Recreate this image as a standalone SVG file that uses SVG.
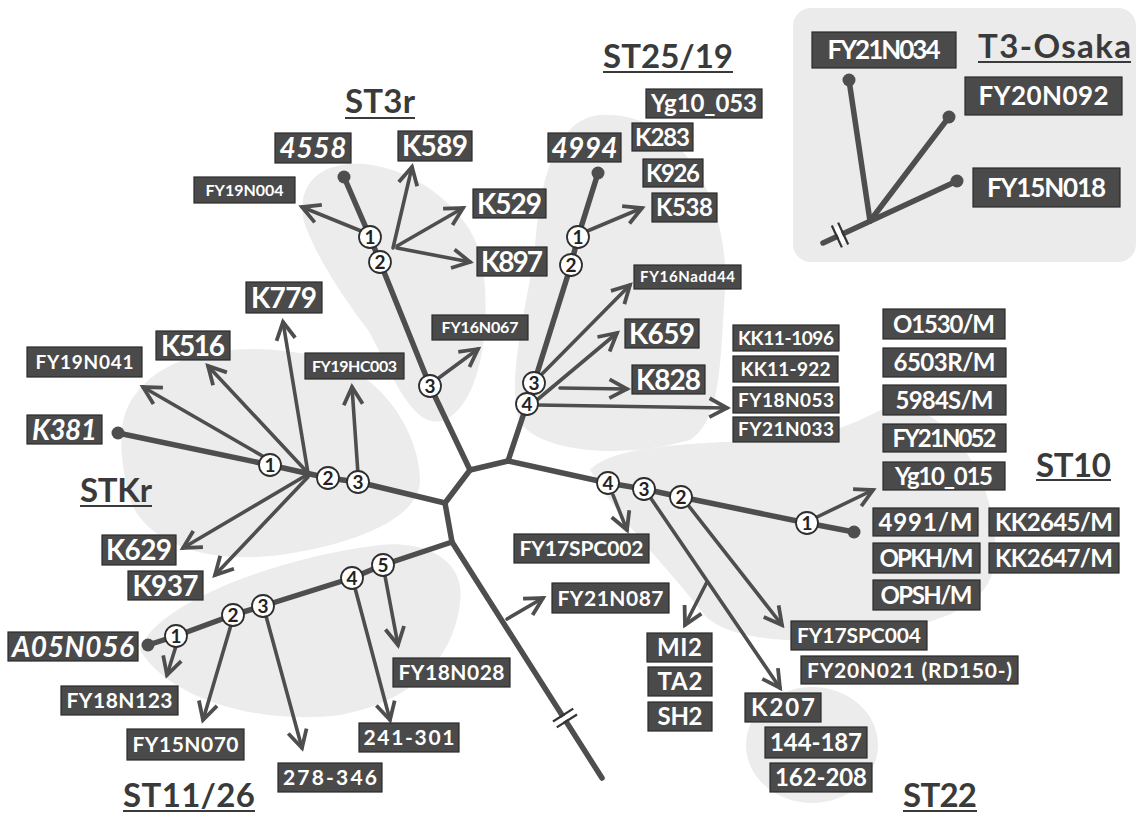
<svg xmlns="http://www.w3.org/2000/svg" width="1138" height="813" viewBox="0 0 1138 813">
<style>
.ln{stroke:#4e4e4e;stroke-width:5.5;fill:none;stroke-linecap:round;stroke-linejoin:round}
.ar{stroke:#4e4e4e;stroke-width:3.6;fill:none;stroke-linecap:round;marker-end:url(#ah)}
.bx{fill:#4a4a4a;stroke:#2a2a2a;stroke-width:1.2}
.lb{fill:#fff;font-family:Lato,"Liberation Sans",sans-serif;font-weight:bold;text-anchor:middle}
.it{font-style:italic}
.cn circle{fill:#fff;stroke:#2e2e2e;stroke-width:1.8}
.cn text{font-family:Lato,"Liberation Sans",sans-serif;font-size:19px;font-weight:bold;text-anchor:middle;fill:#222}
.ttl{font-family:Lato,"Liberation Sans",sans-serif;fill:#3a3a3a;font-size:33px;font-weight:bold}
.ul{stroke:#3a3a3a;stroke-width:2.2}
.blob{fill:#ececec}
.dot{fill:#4e4e4e}
</style>
<defs>
<marker id="ah" viewBox="0 0 20 20" refX="17" refY="10" markerWidth="27" markerHeight="27" markerUnits="userSpaceOnUse" orient="auto"><path d="M4,3 L17,10 L4,17" fill="none" stroke="#4e4e4e" stroke-width="2.8" stroke-linejoin="miter"/></marker>
</defs>
<rect width="1138" height="813" fill="#fff"/>
<g id="backgrounds">
<rect x="793" y="8" width="343" height="254" rx="18" fill="#ebebeb"/>
<path class="blob" d="M330,168 C385,148 472,200 482,262 C492,322 482,402 445,420 C412,432 392,372 368,330 C345,300 318,260 305,225 C298,200 305,178 330,168 Z"/>
<path class="blob" d="M600,115 C680,110 730,200 725,290 C720,360 722,420 690,440 C620,460 540,452 520,422 C505,382 528,300 535,250 C540,170 560,118 600,115 Z"/>
<path class="blob" d="M590,470 C620,440 720,445 800,437 C860,430 880,402 905,406 C965,420 1000,500 995,560 C990,612 930,625 860,636 C800,646 722,640 702,612 C672,572 620,522 590,470 Z"/>
<ellipse class="blob" cx="812" cy="745" rx="66" ry="58"/>
<path class="blob" d="M135,395 C170,345 260,340 330,360 C390,380 420,440 420,480 C420,520 350,545 280,555 C200,565 145,540 130,500 C120,460 115,420 135,395 Z"/>
<path class="blob" d="M140,650 C150,610 260,560 380,545 C432,540 466,565 460,602 C455,652 420,700 340,715 C260,725 170,700 140,650 Z"/>
</g>
<g id="connectors">
<polyline class="ln" points="344,177 370,237 380,262 430,386 470,470"/>
<polyline class="ln" points="470,470 508,461"/>
<polyline class="ln" points="470,470 445,503 452,542"/>
<polyline class="ln" points="508,461 527,404 534,383 571,265 578,237 598,173"/>
<polyline class="ln" points="508,461 608,483 644,489 681,497 807,523 854,532"/>
<polyline class="ln" points="445,503 358,482 328,478 270,465 118,433"/>
<polyline class="ln" points="452,542 383,565 352,578 263,606 233,615 176,636 148,645"/>
<polyline class="ln" points="452,542 602,778"/>
<polyline class="ln" points="849,80 870,221"/>
<polyline class="ln" points="949,117 870,221"/>
<polyline class="ln" points="957,181 823,243"/>
<g transform="translate(565,718) rotate(57.6)"><rect x="-2.2" y="-9" width="4.4" height="18" fill="#fff"/><line x1="-3.5" y1="-12" x2="-3.5" y2="12" stroke="#333" stroke-width="2.2"/><line x1="3.5" y1="-12" x2="3.5" y2="12" stroke="#333" stroke-width="2.2"/></g>
<g transform="translate(840,235) rotate(155.2)"><rect x="-2.2" y="-9" width="4.4" height="18" fill="#fff"/><line x1="-3.5" y1="-12" x2="-3.5" y2="12" stroke="#333" stroke-width="2.2"/><line x1="3.5" y1="-12" x2="3.5" y2="12" stroke="#333" stroke-width="2.2"/></g>
<line class="ar" x1="366" y1="233" x2="302" y2="207"/>
<line class="ar" x1="393" y1="248" x2="412" y2="167"/>
<line class="ar" x1="397" y1="246" x2="463" y2="208"/>
<line class="ar" x1="397" y1="248" x2="470" y2="262"/>
<line class="ar" x1="436" y1="380" x2="478" y2="349"/>
<line class="ar" x1="585" y1="232" x2="642" y2="208"/>
<line class="ar" x1="540" y1="376" x2="630" y2="285"/>
<line class="ar" x1="537" y1="400" x2="617" y2="333"/>
<line class="ar" x1="560" y1="388" x2="627" y2="389"/>
<line class="ar" x1="537" y1="405" x2="727" y2="408"/>
<line class="ar" x1="815" y1="518" x2="873" y2="490"/>
<line class="ar" x1="613" y1="495" x2="627" y2="530"/>
<line class="ar" x1="650" y1="497" x2="780" y2="688"/>
<line class="ar" x1="688" y1="505" x2="782" y2="625"/>
<line class="ar" x1="707" y1="582" x2="685" y2="625"/>
<line class="ar" x1="266" y1="458" x2="143" y2="387"/>
<line class="ar" x1="308" y1="473" x2="208" y2="366"/>
<line class="ar" x1="308" y1="473" x2="283" y2="322"/>
<line class="ar" x1="358" y1="474" x2="352" y2="387"/>
<line class="ar" x1="305" y1="476" x2="183" y2="548"/>
<line class="ar" x1="308" y1="477" x2="215" y2="575"/>
<line class="ar" x1="176" y1="646" x2="167" y2="675"/>
<line class="ar" x1="231" y1="625" x2="203" y2="720"/>
<line class="ar" x1="266" y1="616" x2="302" y2="748"/>
<line class="ar" x1="355" y1="588" x2="390" y2="720"/>
<line class="ar" x1="385" y1="576" x2="398" y2="645"/>
<line class="ar" x1="507" y1="619" x2="543" y2="598"/>
<circle class="dot" cx="344" cy="177" r="6.5"/>
<circle class="dot" cx="598" cy="173" r="6.5"/>
<circle class="dot" cx="854" cy="532" r="6.5"/>
<circle class="dot" cx="118" cy="433" r="6.5"/>
<circle class="dot" cx="148" cy="645" r="6.5"/>
<circle class="dot" cx="849" cy="80" r="6.5"/>
<circle class="dot" cx="949" cy="117" r="6.5"/>
<circle class="dot" cx="957" cy="181" r="6.5"/>
</g>
<g id="mutations" class="cn">
<circle cx="370" cy="237" r="11"/><text x="370" y="244">1</text>
<circle cx="380" cy="262" r="11"/><text x="380" y="269">2</text>
<circle cx="430" cy="386" r="11"/><text x="430" y="393">3</text>
<circle cx="578" cy="237" r="11"/><text x="578" y="244">1</text>
<circle cx="571" cy="265" r="11"/><text x="571" y="272">2</text>
<circle cx="534" cy="383" r="11"/><text x="534" y="390">3</text>
<circle cx="527" cy="404" r="11"/><text x="527" y="411">4</text>
<circle cx="608" cy="483" r="11"/><text x="608" y="490">4</text>
<circle cx="644" cy="489" r="11"/><text x="644" y="496">3</text>
<circle cx="681" cy="497" r="11"/><text x="681" y="504">2</text>
<circle cx="807" cy="523" r="11"/><text x="807" y="530">1</text>
<circle cx="270" cy="465" r="11"/><text x="270" y="472">1</text>
<circle cx="328" cy="478" r="11"/><text x="328" y="485">2</text>
<circle cx="358" cy="482" r="11"/><text x="358" y="489">3</text>
<circle cx="176" cy="636" r="11"/><text x="176" y="643">1</text>
<circle cx="233" cy="615" r="11"/><text x="233" y="622">2</text>
<circle cx="263" cy="606" r="11"/><text x="263" y="613">3</text>
<circle cx="352" cy="578" r="11"/><text x="352" y="585">4</text>
<circle cx="383" cy="565" r="11"/><text x="383" y="572">5</text>
</g>
<g id="titles">
<text class="ttl" x="345" y="113" textLength="70">ST3r</text><line class="ul" x1="345" y1="118" x2="415" y2="118"/>
<text class="ttl" x="603" y="68" textLength="130">ST25/19</text><line class="ul" x1="603" y1="72" x2="733" y2="72"/>
<text class="ttl" x="978" y="58" textLength="153">T3-Osaka</text><line class="ul" x1="978" y1="62" x2="1131" y2="62"/>
<text class="ttl" x="1036" y="477" textLength="75">ST10</text><line class="ul" x1="1036" y1="480" x2="1111" y2="480"/>
<text class="ttl" x="80" y="502" textLength="72">STKr</text><line class="ul" x1="80" y1="506" x2="152" y2="506"/>
<text class="ttl" x="123" y="807" textLength="132">ST11/26</text><line class="ul" x1="123" y1="811" x2="255" y2="811"/>
<text class="ttl" x="903" y="807" textLength="74">ST22</text><line class="ul" x1="903" y1="811" x2="977" y2="811"/>
</g>
<g id="n4558"><rect class="bx" x="275" y="133" width="76" height="30"/><text class="lb it" x="313" y="158" font-size="28" textLength="67">4558</text></g>
<g id="nK589"><rect class="bx" x="398" y="131" width="74" height="30"/><text class="lb" x="435" y="156" font-size="28" textLength="66">K589</text></g>
<g id="nFY19N004"><rect class="bx" x="194" y="177" width="101" height="26"/><text class="lb" x="244.5" y="196" font-size="16" textLength="78">FY19N004</text></g>
<g id="nK529"><rect class="bx" x="473" y="189" width="73" height="29"/><text class="lb" x="509.5" y="213.5" font-size="28" textLength="65">K529</text></g>
<g id="nK897"><rect class="bx" x="477" y="247" width="70" height="29"/><text class="lb" x="512" y="271.5" font-size="28" textLength="62">K897</text></g>
<g id="nFY16N067"><rect class="bx" x="432" y="315" width="96" height="25"/><text class="lb" x="480" y="333" font-size="16" textLength="77">FY16N067</text></g>
<g id="nYg10_053"><rect class="bx" x="646" y="89" width="116" height="29"/><text class="lb" x="704" y="112" font-size="24" textLength="106">Yg10_053</text></g>
<g id="nK283"><rect class="bx" x="632" y="123" width="61" height="28"/><text class="lb" x="662.5" y="145.6" font-size="24" textLength="55">K283</text></g>
<g id="nK926"><rect class="bx" x="643" y="159" width="60" height="28"/><text class="lb" x="673" y="181.6" font-size="24" textLength="54">K926</text></g>
<g id="nK538"><rect class="bx" x="652" y="193" width="65" height="29"/><text class="lb" x="684.5" y="216" font-size="24" textLength="57">K538</text></g>
<g id="n4994"><rect class="bx" x="548" y="133" width="73" height="29"/><text class="lb it" x="584.5" y="157.5" font-size="28" textLength="66">4994</text></g>
<g id="nFY16Nadd44"><rect class="bx" x="634" y="265" width="107" height="24"/><text class="lb" x="687.5" y="282.4" font-size="15" textLength="95">FY16Nadd44</text></g>
<g id="nK659"><rect class="bx" x="625" y="319" width="74" height="29"/><text class="lb" x="662" y="343.5" font-size="28" textLength="66">K659</text></g>
<g id="nK828"><rect class="bx" x="632" y="365" width="73" height="29"/><text class="lb" x="668.5" y="389.5" font-size="28" textLength="65">K828</text></g>
<g id="nKK11-1096"><rect class="bx" x="733" y="325" width="106" height="26"/><text class="lb" x="786" y="344.8" font-size="19" textLength="96">KK11-1096</text></g>
<g id="nKK11-922"><rect class="bx" x="733" y="356" width="105" height="26"/><text class="lb" x="785.5" y="375.8" font-size="19" textLength="90">KK11-922</text></g>
<g id="nFY18N053"><rect class="bx" x="733" y="387" width="106" height="26"/><text class="lb" x="786" y="406.8" font-size="19" textLength="96">FY18N053</text></g>
<g id="nFY21N033"><rect class="bx" x="733" y="417" width="106" height="25"/><text class="lb" x="786" y="436.3" font-size="19" textLength="96">FY21N033</text></g>
<g id="nFY19N041"><rect class="bx" x="27" y="347" width="115" height="30"/><text class="lb" x="84.5" y="368.8" font-size="19" textLength="98">FY19N041</text></g>
<g id="nK516"><rect class="bx" x="156" y="331" width="74" height="29"/><text class="lb" x="193" y="355.5" font-size="28" textLength="64">K516</text></g>
<g id="nK779"><rect class="bx" x="246" y="282" width="76" height="31"/><text class="lb" x="284" y="307.5" font-size="28" textLength="66">K779</text></g>
<g id="nFY19HC003"><rect class="bx" x="305" y="353" width="99" height="26"/><text class="lb" x="354.5" y="371.8" font-size="16" textLength="85">FY19HC003</text></g>
<g id="nK381"><rect class="bx" x="27" y="415" width="75" height="29"/><text class="lb it" x="64.5" y="439.5" font-size="28" textLength="65">K381</text></g>
<g id="nK629"><rect class="bx" x="102" y="535" width="74" height="30"/><text class="lb" x="139" y="560" font-size="28" textLength="66">K629</text></g>
<g id="nK937"><rect class="bx" x="128" y="571" width="75" height="29"/><text class="lb" x="165.5" y="595.5" font-size="28" textLength="66">K937</text></g>
<g id="nA05N056"><rect class="bx" x="8" y="632" width="130" height="29"/><text class="lb it" x="73" y="656.5" font-size="28" textLength="122">A05N056</text></g>
<g id="nFY18N123"><rect class="bx" x="61" y="686" width="117" height="29"/><text class="lb" x="119.5" y="708" font-size="21" textLength="106">FY18N123</text></g>
<g id="nFY15N070"><rect class="bx" x="127" y="729" width="117" height="31"/><text class="lb" x="185.5" y="752" font-size="21" textLength="106">FY15N070</text></g>
<g id="n278-346"><rect class="bx" x="278" y="763" width="104" height="29"/><text class="lb" x="330" y="785" font-size="21" textLength="94">278-346</text></g>
<g id="n241-301"><rect class="bx" x="359" y="723" width="100" height="29"/><text class="lb" x="409" y="745" font-size="21" textLength="91">241-301</text></g>
<g id="nFY18N028"><rect class="bx" x="393" y="658" width="117" height="29"/><text class="lb" x="451.5" y="680" font-size="21" textLength="106">FY18N028</text></g>
<g id="nFY17SPC002"><rect class="bx" x="514" y="534" width="135" height="29"/><text class="lb" x="581.5" y="556" font-size="21" textLength="124">FY17SPC002</text></g>
<g id="nFY21N087"><rect class="bx" x="552" y="583" width="117" height="30"/><text class="lb" x="610.5" y="605.6" font-size="21" textLength="106">FY21N087</text></g>
<g id="nMI2"><rect class="bx" x="647" y="633" width="65" height="29"/><text class="lb" x="679.5" y="656" font-size="24" textLength="45">MI2</text></g>
<g id="nTA2"><rect class="bx" x="648" y="667" width="64" height="29"/><text class="lb" x="680" y="690" font-size="24" textLength="45">TA2</text></g>
<g id="nSH2"><rect class="bx" x="648" y="702" width="64" height="29"/><text class="lb" x="680" y="725" font-size="24" textLength="45">SH2</text></g>
<g id="nFY17SPC004"><rect class="bx" x="791" y="621" width="136" height="29"/><text class="lb" x="859" y="643" font-size="21" textLength="124">FY17SPC004</text></g>
<g id="nFY20N021"><rect class="bx" x="801" y="656" width="217" height="28"/><text class="lb" x="909.5" y="677.6" font-size="21" textLength="205">FY20N021 (RD150-)</text></g>
<g id="nK207"><rect class="bx" x="745" y="693" width="76" height="29"/><text class="lb" x="783" y="716" font-size="24" textLength="64">K207</text></g>
<g id="n144-187"><rect class="bx" x="765" y="727" width="102" height="31"/><text class="lb" x="816" y="751" font-size="24" textLength="92">144-187</text></g>
<g id="n162-208"><rect class="bx" x="770" y="763" width="102" height="29"/><text class="lb" x="821" y="786" font-size="24" textLength="92">162-208</text></g>
<g id="nO1530M"><rect class="bx" x="883" y="309" width="122" height="30"/><text class="lb" x="944" y="332.6" font-size="24" textLength="102">O1530/M</text></g>
<g id="n6503RM"><rect class="bx" x="883" y="348" width="123" height="29"/><text class="lb" x="944.5" y="371" font-size="24" textLength="102">6503R/M</text></g>
<g id="n5984SM"><rect class="bx" x="883" y="385" width="123" height="30"/><text class="lb" x="944.5" y="408.6" font-size="24" textLength="98">5984S/M</text></g>
<g id="nFY21N052"><rect class="bx" x="883" y="424" width="123" height="28"/><text class="lb" x="944.5" y="446.6" font-size="24" textLength="104">FY21N052</text></g>
<g id="nYg10_015"><rect class="bx" x="883" y="462" width="122" height="28"/><text class="lb" x="944" y="484.6" font-size="24" textLength="98">Yg10_015</text></g>
<g id="n4991M"><rect class="bx" x="873" y="508" width="105" height="28"/><text class="lb" x="925.5" y="530.6" font-size="24" textLength="94">4991/M</text></g>
<g id="nKK2645M"><rect class="bx" x="989" y="508" width="130" height="28"/><text class="lb" x="1054" y="530.6" font-size="24" textLength="118">KK2645/M</text></g>
<g id="nOPKHM"><rect class="bx" x="873" y="543" width="107" height="30"/><text class="lb" x="926.5" y="566.6" font-size="24" textLength="94">OPKH/M</text></g>
<g id="nKK2647M"><rect class="bx" x="989" y="543" width="130" height="30"/><text class="lb" x="1054" y="566.6" font-size="24" textLength="118">KK2647/M</text></g>
<g id="nOPSHM"><rect class="bx" x="873" y="580" width="107" height="30"/><text class="lb" x="926.5" y="603.6" font-size="24" textLength="92">OPSH/M</text></g>
<g id="nFY21N034"><rect class="bx" x="812" y="32" width="144" height="36"/><text class="lb" x="884" y="59.4" font-size="26" textLength="113">FY21N034</text></g>
<g id="nFY20N092"><rect class="bx" x="965" y="77" width="157" height="38"/><text class="lb" x="1043.5" y="105.4" font-size="26" textLength="130">FY20N092</text></g>
<g id="nFY15N018"><rect class="bx" x="973" y="168" width="147" height="39"/><text class="lb" x="1046.5" y="197" font-size="26" textLength="119">FY15N018</text></g>
</svg>
